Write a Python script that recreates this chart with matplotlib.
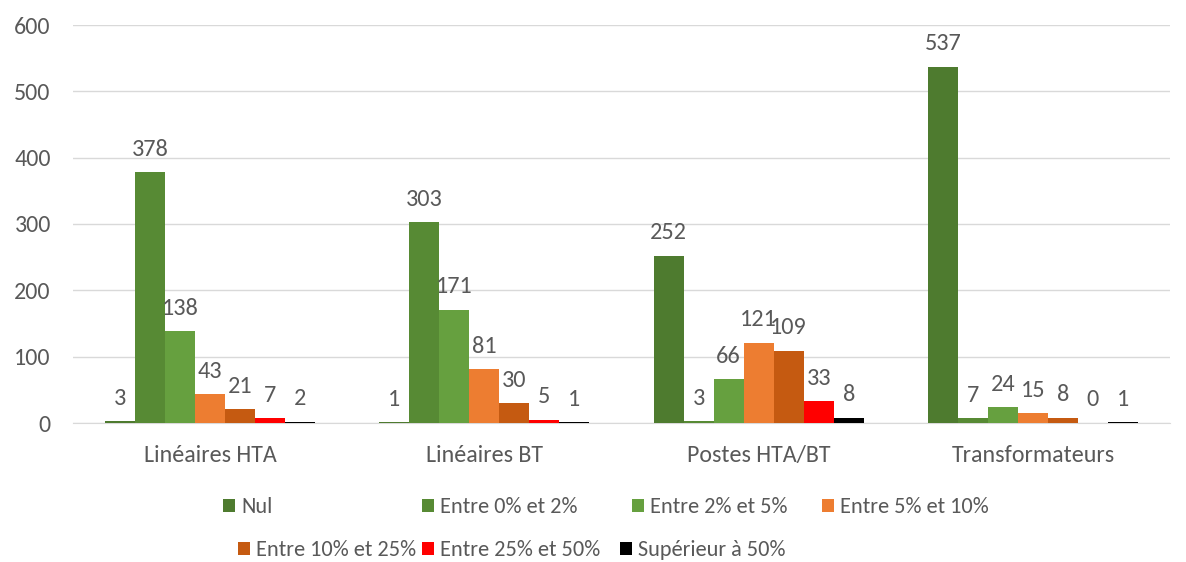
import matplotlib
matplotlib.use("Agg")
import matplotlib.pyplot as plt
from matplotlib import font_manager as fm
import numpy as np

categories = ["Linéaires HTA", "Linéaires BT", "Postes HTA/BT", "Transformateurs"]
series_names = ["Nul", "Entre 0% et 2%", "Entre 2% et 5%", "Entre 5% et 10%",
                "Entre 10% et 25%", "Entre 25% et 50%", "Supérieur à 50%"]
nul = [3, 1, 252, 537]
entre_0_2 = [378, 303, 3, 7]
entre_2_5 = [138, 171, 66, 24]
entre_5_10 = [43, 81, 121, 15]
entre_10_25 = [21, 30, 109, 8]
entre_25_50 = [7, 5, 33, 0]
sup_50 = [2, 1, 8, 1]
series_values = [nul, entre_0_2, entre_2_5, entre_5_10, entre_10_25, entre_25_50, sup_50]
colors = ["#4E7B2F", "#578A34", "#66A03F", "#ED7D31", "#C55A11", "#FF0000", "#000000"]
yticks = [0, 100, 200, 300, 400, 500, 600]

# legend entry anchor positions in pixels (left of square, row centre)
legend_pos_px = [(223, 507), (422, 507), (632, 507), (822, 507),
                 (238, 550), (422, 550), (620, 550)]

installed = {f.name for f in fm.fontManager.ttflist}
main_family = ['Carlito', 'Lato', 'DejaVu Sans'] if 'Carlito' in installed else ['Lato', 'DejaVu Sans']
plt.rcParams['font.family'] = main_family
txt = "#595959"

W, H = 1186, 562
fig = plt.figure(figsize=(W / 100, H / 100), dpi=100)
renderer = fig.canvas.get_renderer()


def fit_size(text, target_px):
    t = fig.text(0, 0, text, fontsize=10)
    w = t.get_window_extent(renderer).width
    t.remove()
    return 10 * target_px / w


tick_size = fit_size("Linéaires HTA", 133)
val_size = fit_size("537", 37)
leg_size = fit_size("Entre 10% et 25%", 160)

ax = fig.add_axes([73 / W, 1 - 423 / H, 1097 / W, 398 / H])

x = np.arange(len(categories))
bw = 30 / 274
handles = []
for i, (name, vals, c) in enumerate(zip(series_names, series_values, colors)):
    offs = (i - 3) * bw
    b = ax.bar(x + offs, vals, width=bw, color=c, label=name, zorder=3)
    handles.append(b)
    for xi, v in zip(x, vals):
        ax.annotate(str(v), (xi + offs, v), xytext=(0, 9), textcoords="offset points",
                    ha="center", va="bottom", fontsize=val_size, color=txt)

ax.set_xlim(-0.5, 3.5)
ax.set_ylim(0, 600)
ax.set_yticks(yticks)
ax.set_xticks(x)
ax.set_xticklabels(categories)
ax.tick_params(axis="both", length=0, labelsize=tick_size, labelcolor=txt)
ax.tick_params(axis="x", pad=16)
ax.tick_params(axis="y", pad=16)
ax.grid(axis="y", color="#D9D9D9", linewidth=1, zorder=0)
for s in ["top", "right", "left"]:
    ax.spines[s].set_visible(False)
ax.spines["bottom"].set_color("#D9D9D9")

px_per_em = leg_size * 100 / 72
for h, name, (px, py) in zip(handles, series_names, legend_pos_px):
    fig.legend([h], [name], loc="center left", bbox_to_anchor=(px / W, 1 - py / H),
               frameon=False, fontsize=leg_size,
               handlelength=12 / px_per_em, handleheight=12 / px_per_em,
               handletextpad=6 / px_per_em, labelcolor=txt,
               borderaxespad=0, borderpad=0)

fig.savefig("out.png", dpi=100)
